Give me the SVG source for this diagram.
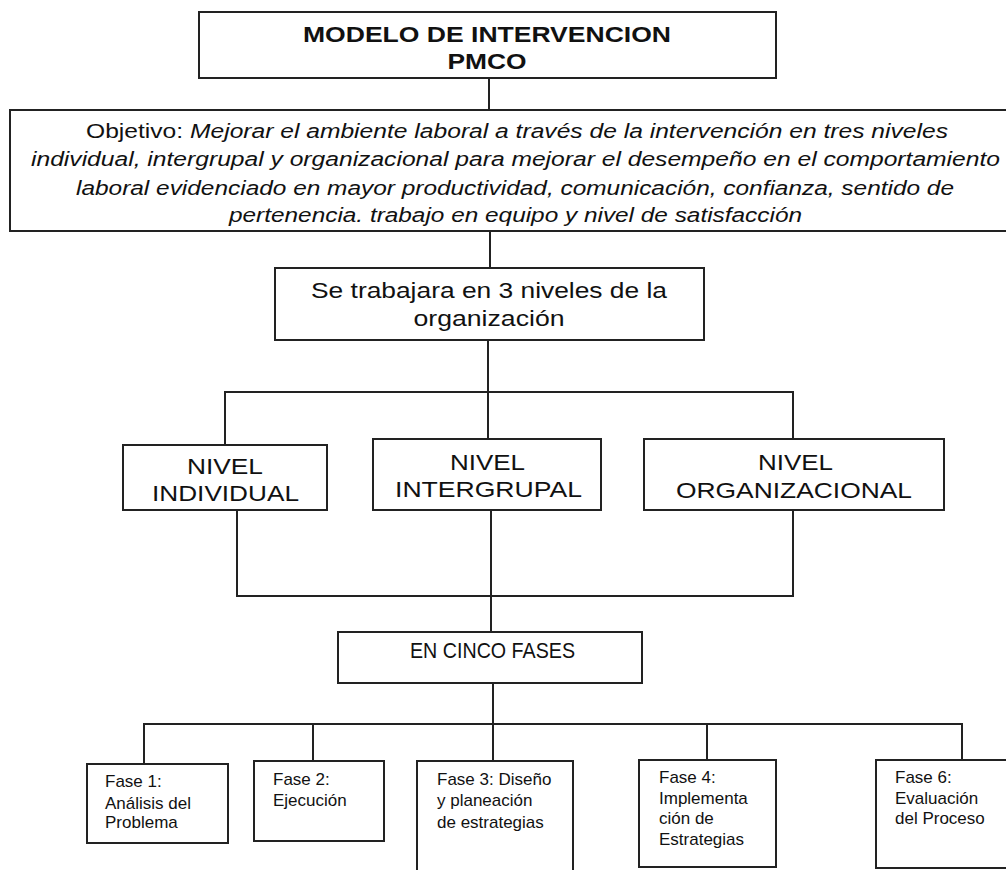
<svg xmlns="http://www.w3.org/2000/svg" width="1006" height="870" viewBox="0 0 1006 870">
<style>
.box{fill:#fff;stroke:#222;stroke-width:2}
.ln{fill:none;stroke:#222;stroke-width:2}
text{font-family:"Liberation Sans",Arial,sans-serif;fill:#111}
.t{font-size:22px;text-anchor:middle}
.title{font-size:22px;font-weight:bold;text-anchor:middle}
.obj{font-size:20px;text-anchor:middle}
.f{font-size:17px}
</style>
<rect width="1006" height="870" fill="#fff"/>
<g id="connectors">
<line class="ln" x1="489" y1="78" x2="489" y2="110"/>
<line class="ln" x1="490" y1="231" x2="490" y2="268"/>
<line class="ln" x1="488" y1="340" x2="488" y2="439"/>
<polyline class="ln" points="225,445 225,392 793,392 793,439"/>
<line class="ln" x1="491" y1="510" x2="491" y2="632"/>
<polyline class="ln" points="237,510 237,596 793,596 793,510"/>
<line class="ln" x1="493" y1="683" x2="493" y2="761"/>
<polyline class="ln" points="144,764 144,724 962,724 962,760"/>
<line class="ln" x1="313" y1="724" x2="313" y2="761"/>
<line class="ln" x1="707" y1="724" x2="707" y2="760"/>
</g>
<g id="titulo">
<rect class="box" x="199" y="12" width="577" height="66"/>
<text class="title" x="487" y="42" textLength="368" lengthAdjust="spacingAndGlyphs">MODELO DE INTERVENCION</text>
<text class="title" x="487" y="69" textLength="79" lengthAdjust="spacingAndGlyphs">PMCO</text>
</g>
<g id="objetivo">
<rect class="box" x="10" y="110" width="1010" height="121"/>
<text class="obj" x="517" y="138" textLength="862" lengthAdjust="spacingAndGlyphs">Objetivo: <tspan font-style="italic">Mejorar el ambiente laboral a través de la intervención en tres niveles</tspan></text>
<text class="obj" x="515.5" y="166" font-style="italic" textLength="969" lengthAdjust="spacingAndGlyphs">individual, intergrupal y organizacional para mejorar el desempeño en el comportamiento</text>
<text class="obj" x="515" y="195" font-style="italic" textLength="878" lengthAdjust="spacingAndGlyphs">laboral evidenciado en mayor productividad, comunicación, confianza, sentido de</text>
<text class="obj" x="515.5" y="222" font-style="italic" textLength="573" lengthAdjust="spacingAndGlyphs">pertenencia. trabajo en equipo y nivel de satisfacción</text>
</g>
<g id="niveles3">
<rect class="box" x="275" y="268" width="429" height="72"/>
<text class="t" x="489" y="298" textLength="356" lengthAdjust="spacingAndGlyphs">Se trabajara en 3 niveles de la</text>
<text class="t" x="489" y="326" textLength="151" lengthAdjust="spacingAndGlyphs">organización</text>
</g>
<g id="individual">
<rect class="box" x="123" y="445" width="204" height="65"/>
<text class="t" x="225" y="474" textLength="76" lengthAdjust="spacingAndGlyphs">NIVEL</text>
<text class="t" x="225.5" y="501" textLength="147" lengthAdjust="spacingAndGlyphs">INDIVIDUAL</text>
</g>
<g id="intergrupal">
<rect class="box" x="373" y="439" width="228" height="71"/>
<text class="t" x="487.5" y="470" textLength="75" lengthAdjust="spacingAndGlyphs">NIVEL</text>
<text class="t" x="488.5" y="497" textLength="187" lengthAdjust="spacingAndGlyphs">INTERGRUPAL</text>
</g>
<g id="organizacional">
<rect class="box" x="644" y="439" width="300" height="71"/>
<text class="t" x="795.5" y="470" textLength="75" lengthAdjust="spacingAndGlyphs">NIVEL</text>
<text class="t" x="794" y="498" textLength="236" lengthAdjust="spacingAndGlyphs">ORGANIZACIONAL</text>
</g>
<g id="cincofases">
<rect class="box" x="338" y="632" width="304" height="51"/>
<text class="t" x="492.5" y="658" font-size="20" textLength="165" lengthAdjust="spacingAndGlyphs">EN CINCO FASES</text>
</g>
<g id="fase1">
<rect class="box" x="87" y="764" width="141" height="79"/>
<text class="f" x="105" y="787">Fase 1:</text>
<text class="f" x="105" y="809">Análisis del</text>
<text class="f" x="105" y="828">Problema</text>
</g>
<g id="fase2">
<rect class="box" x="254" y="761" width="130" height="80"/>
<text class="f" x="273" y="785">Fase 2:</text>
<text class="f" x="273" y="806">Ejecución</text>
</g>
<g id="fase3">
<rect class="box" x="417" y="761" width="156" height="120"/>
<text class="f" x="437" y="785">Fase 3: Diseño</text>
<text class="f" x="437" y="806">y planeación</text>
<text class="f" x="437" y="828">de estrategias</text>
</g>
<g id="fase4">
<rect class="box" x="639" y="760" width="137" height="107"/>
<text class="f" x="659" y="783">Fase 4:</text>
<text class="f" x="659" y="804">Implementa</text>
<text class="f" x="659" y="824">ción de</text>
<text class="f" x="659" y="845">Estrategias</text>
</g>
<g id="fase6">
<rect class="box" x="876" y="760" width="140" height="108"/>
<text class="f" x="895" y="783">Fase 6:</text>
<text class="f" x="895" y="804">Evaluación</text>
<text class="f" x="895" y="824">del Proceso</text>
</g>
</svg>
